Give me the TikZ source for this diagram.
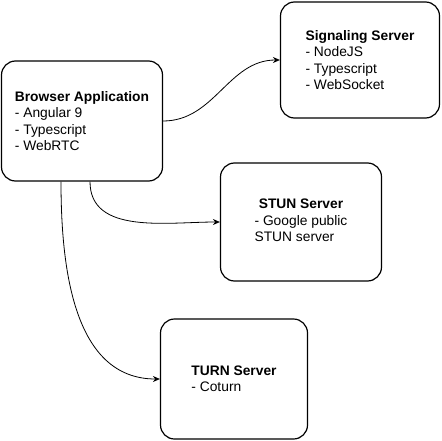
\documentclass[tikz,border=0pt]{standalone}
\usepackage{fontspec}
\setmainfont{Liberation Sans}
\usetikzlibrary{arrows.meta}

\begin{document}
\begin{tikzpicture}[x=1pt,y=-1pt,
    server/.style={draw,line width=1.2pt,rounded corners=14pt,align=left,inner sep=0pt,font=\fontsize{13.8}{16.3}\selectfont},
    link/.style={-{Stealth[length=7pt,width=6pt]},line width=0.8pt}]
                    \useasboundingbox (0,0) rectangle (441,441);

                    \node[server,minimum width=161pt,minimum height=120pt] (browser) at (82,121)
                        {\textbf{Browser Application}\\- Angular 9\\- Typescript\\- WebRTC};
                    \node[server,minimum width=159pt,minimum height=116pt] (signal) at (360,60)
                        {\textbf{Signaling Server}\\- NodeJS\\- Typescript\\- WebSocket};
                    \node[server,minimum width=161pt,minimum height=118pt] (stun) at (301,222)
                        {\begin{tabular}{@{}l@{}}\multicolumn{1}{@{}c@{}}{\textbf{STUN Server}}\\- Google public\\STUN server\end{tabular}};
                    \node[server,minimum width=147pt,minimum height=120pt] (turn) at (234,379)
                        {\textbf{TURN Server}\\- Coturn};

                    \draw[link] (browser.east) to[out=0,in=180] (signal.west);
                    \draw[link] ([xshift=8pt]browser.south) to[out=-90,in=180] (stun.west);
                    \draw[link] ([xshift=-21pt]browser.south) to[out=-90,in=180] (turn.west);
                \end{tikzpicture}
\end{document}
